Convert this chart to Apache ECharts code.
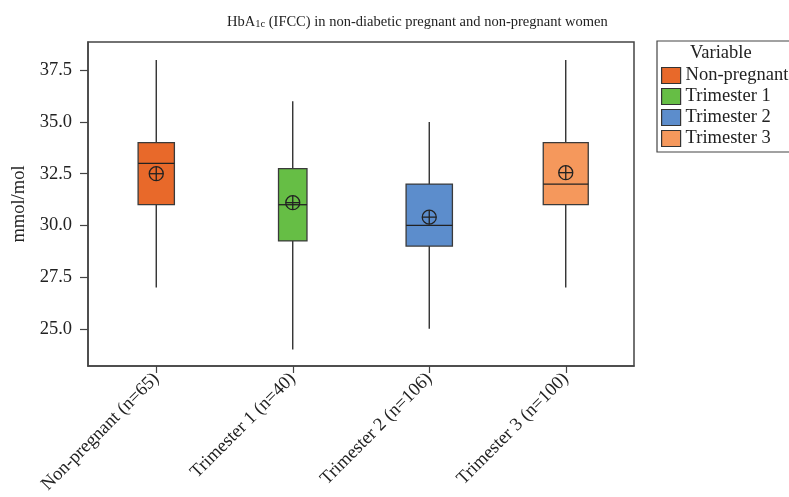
<!DOCTYPE html>
<html>
<head>
<meta charset="utf-8">
<script src="https://cdn.jsdelivr.net/npm/echarts@6/dist/echarts.min.js"></script>
<style>html,body{margin:0;padding:0;background:#fff}#c{width:789px;height:497px}</style>
</head>
<body>
<div id="c"></div>
<script>
var categories = ['Non-pregnant (n=65)', 'Trimester 1 (n=40)', 'Trimester 2 (n=106)', 'Trimester 3 (n=100)'];
var groupNames = ['Non-pregnant', 'Trimester 1', 'Trimester 2', 'Trimester 3'];
var sampleSizes = [65, 40, 106, 100];
var whiskerLow = [27, 24, 25, 27];
var q1 = [31, 29.25, 29, 31];
var median = [33, 31, 30, 32];
var q3 = [34, 32.75, 32, 34];
var whiskerHigh = [38, 36, 35, 38];
var means = [32.5, 31.1, 30.4, 32.55];
var yTicks = [25, 27.5, 30, 32.5, 35, 37.5];

var colors = ['#E8692A', '#66BE45', '#5C8DCC', '#F5985C'];
var FONT = "'Liberation Serif','Times New Roman',serif";
var INK = '#222';
var FS = 18.5;

function renderBox(params, api) {
  var i = api.value(0);
  var lo = api.coord([i, api.value(1)]);
  var b1 = api.coord([i, api.value(2)]);
  var md = api.coord([i, api.value(3)]);
  var b3 = api.coord([i, api.value(4)]);
  var hi = api.coord([i, api.value(5)]);
  var mn = api.coord([i, api.value(6)]);
  var w = 4.5 * Math.sqrt(api.value(7));
  var x = lo[0];
  var r = 7;
  var lineStyle = {stroke: INK, lineWidth: 1.3};
  return {
    type: 'group',
    children: [
      {type: 'line', shape: {x1: x, y1: hi[1], x2: x, y2: b3[1]}, style: lineStyle},
      {type: 'line', shape: {x1: x, y1: b1[1], x2: x, y2: lo[1]}, style: lineStyle},
      {type: 'rect', shape: {x: x - w / 2, y: b3[1], width: w, height: b1[1] - b3[1]},
        style: {fill: api.visual('color'), stroke: '#3a3a3a', lineWidth: 1.3}},
      {type: 'line', shape: {x1: x - w / 2, y1: md[1], x2: x + w / 2, y2: md[1]}, style: lineStyle},
      {type: 'circle', shape: {cx: x, cy: mn[1], r: r}, style: {fill: 'none', stroke: INK, lineWidth: 1.3}},
      {type: 'line', shape: {x1: x - r, y1: mn[1], x2: x + r, y2: mn[1]}, style: lineStyle},
      {type: 'line', shape: {x1: x, y1: mn[1] - r, x2: x, y2: mn[1] + r}, style: lineStyle}
    ]
  };
}

var series = groupNames.map(function (name, i) {
  return {
    name: name,
    type: 'custom',
    renderItem: renderBox,
    itemStyle: {color: colors[i]},
    encode: {x: 0, y: [1, 2, 3, 4, 5, 6]},
    data: [[i, whiskerLow[i], q1[i], median[i], q3[i], whiskerHigh[i], means[i], sampleSizes[i]]]
  };
});

var chart = echarts.init(document.getElementById('c'), null, {renderer: 'canvas'});
chart.setOption({
  animation: false,
  backgroundColor: '#fff',
  textStyle: {fontFamily: FONT},
  title: {
    text: '{a|HbA}{s|1c}{a| (IFCC) in non-diabetic pregnant and non-pregnant women}',
    left: 227,
    top: 8,
    padding: 0,
    textStyle: {
      fontWeight: 'normal',
      rich: {
        a: {fontFamily: FONT, fontSize: 14.5, fontWeight: 'normal', color: INK, lineHeight: 22, verticalAlign: 'bottom'},
        s: {fontFamily: FONT, fontSize: 10.5, fontWeight: 'normal', color: INK, lineHeight: 10, verticalAlign: 'bottom'}
      }
    }
  },
  grid: {left: 88, right: 155, top: 42, bottom: 131, show: true, borderColor: '#444', borderWidth: 1.5, containLabel: false, outerBoundsMode: 'none'},
  legend: {
    orient: 'vertical',
    left: 657,
    top: 41,
    padding: [25, 40, 4, 4],
    itemWidth: 19,
    itemHeight: 16,
    itemGap: 2,
    icon: 'rect',
    borderColor: '#444',
    borderWidth: 1.2,
    itemStyle: {borderColor: '#333', borderWidth: 1.2},
    textStyle: {fontFamily: FONT, fontSize: FS, color: INK, lineHeight: 19},
    data: groupNames
  },
  graphic: [{
    type: 'text', left: 690, top: 44,
    style: {text: 'Variable', font: FS + 'px ' + FONT, fill: INK}
  }],
  xAxis: {
    type: 'category',
    data: categories,
    boundaryGap: true,
    axisLine: {show: true, lineStyle: {color: '#444', width: 1.5}},
    axisTick: {show: true, alignWithLabel: true, length: 7, lineStyle: {color: '#444', width: 1.2}},
    axisLabel: {interval: 0, rotate: 45, margin: 10, verticalAlign: 'middle', padding: [11, 0, 0, 0], fontFamily: FONT, fontSize: FS, color: INK},
    splitLine: {show: false}
  },
  yAxis: {
    type: 'value',
    min: 23.2,
    max: 38.87,
    name: 'mmol/mol',
    nameLocation: 'middle',
    nameGap: 59,
    nameTextStyle: {fontFamily: FONT, fontSize: FS, color: INK},
    axisLine: {show: true, lineStyle: {color: '#444', width: 1.5}},
    axisTick: {show: true, length: 8, customValues: yTicks, lineStyle: {color: '#444', width: 1.2}},
    axisLabel: {
      customValues: yTicks, margin: 16, fontFamily: FONT, fontSize: FS, color: INK,
      formatter: function (v) { return v.toFixed(1); }
    },
    splitLine: {show: false}
  },
  series: series
});
</script>
</body>
</html>
